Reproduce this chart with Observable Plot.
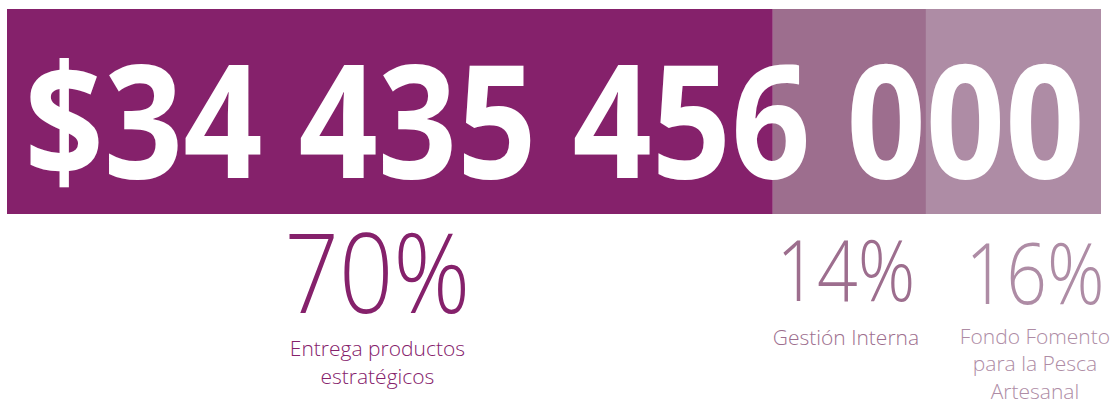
<!DOCTYPE html>
<html>
<head>
<meta charset="utf-8">
<script src="https://cdn.jsdelivr.net/npm/d3@7"></script>
<script src="https://cdn.jsdelivr.net/npm/@observablehq/plot@0.6"></script>
<style>
  html, body { margin: 0; padding: 0; background: #ffffff; }
  #chart svg { display: block; }
</style>
</head>
<body>
<div id="chart"></div>
<script>
// ---- data ----
const categories = ["Entrega productos estratégicos", "Gestión Interna", "Fondo Fomento para la Pesca Artesanal"];
const categoryLines = ["Entrega productos\nestratégicos", "Gestión Interna", "Fondo Fomento\npara la Pesca\nArtesanal"];
const shares = [70, 14, 16];
const shareLabels = ["70%", "14%", "16%"];
const totalLabel = "$34 435 456 000";

// ---- styles ----
const colors = ["#85216b", "#9d6e8e", "#ae8ca5"];
const pctFontSize = [110, 84, 84];
const pctDy = [98, 86, 89];
const pctWidth = [186, 139, 139];
const labelDy = [169, 130, 184];
const groupDx = [-13, -4, 21];

const ends = d3.cumsum(shares);
const rows = categories.map((name, i) => ({
  name,
  lines: categoryLines[i],
  share: shares[i],
  pct: shareLabels[i],
  start: ends[i] - shares[i],
  end: ends[i],
  mid: ends[i] - shares[i] / 2
}));

const marks = [
  Plot.barX(rows, {x1: "start", x2: "end", fill: "name", inset: 0}),
  Plot.text([totalLabel], {
    text: d => d, frameAnchor: "bottom", lineAnchor: "bottom", dy: -37,
    fill: "white", fontSize: 158, fontWeight: 700
  })
];
rows.forEach((r, i) => {
  marks.push(Plot.text([r], {
    x: "mid", text: "pct", frameAnchor: "bottom", lineAnchor: "bottom",
    dx: groupDx[i], dy: pctDy[i], fill: colors[i], fontSize: pctFontSize[i], fontWeight: 300
  }));
  marks.push(Plot.text([r], {
    x: "mid", text: "lines", frameAnchor: "bottom", lineAnchor: "bottom", lineHeight: 1.3,
    dx: groupDx[i], dy: labelDy[i], fill: colors[i], fontSize: 21, fontWeight: 300
  }));
});

const svg = Plot.plot({
  width: 1113,
  height: 401,
  marginLeft: 7,
  marginRight: 12,
  marginTop: 9,
  marginBottom: 187,
  style: {fontFamily: "'Open Sans', sans-serif", background: "white"},
  x: {domain: [0, 100], axis: null},
  color: {domain: categories, range: colors},
  marks
});

// fit the condensed display lettering widths
const textGroups = svg.querySelectorAll('g[aria-label="text"]');
const big = textGroups[0].querySelector("text");
big.setAttribute("textLength", 1060);
big.setAttribute("lengthAdjust", "spacingAndGlyphs");
for (let i = 0; i < rows.length; i++) {
  const t = textGroups[1 + 2 * i].querySelector("text");
  t.setAttribute("textLength", pctWidth[i]);
  t.setAttribute("lengthAdjust", "spacingAndGlyphs");
}

document.getElementById("chart").appendChild(svg);
</script>
</body>
</html>
